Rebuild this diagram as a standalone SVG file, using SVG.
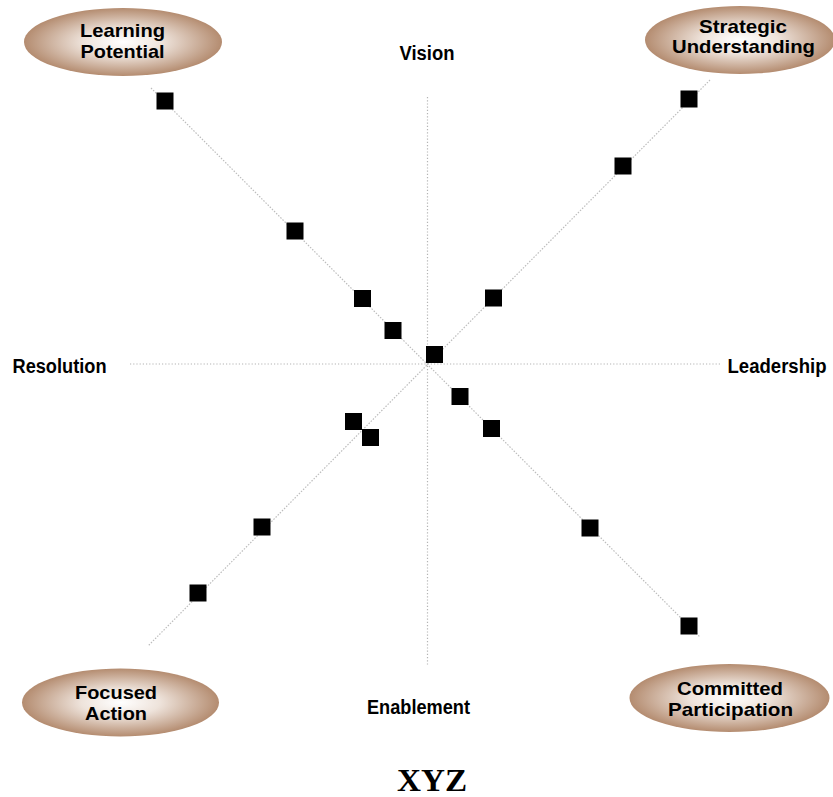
<svg xmlns="http://www.w3.org/2000/svg" width="833" height="797" viewBox="0 0 833 797">
<style>
.lbl{font-family:"Liberation Sans",Arial,sans-serif;font-weight:bold;font-size:20px;fill:#000;text-anchor:middle}
.nl{font-family:"Liberation Sans",Arial,sans-serif;font-weight:bold;font-size:19px;fill:#000;text-anchor:middle}
.ax{stroke:#b4b4b4;stroke-width:1.2;stroke-dasharray:1.2 2;fill:none}
.dg{stroke:#bdbdbd;stroke-width:1.2;stroke-dasharray:1.5 1.5;fill:none}
.pt{fill:#000}
.ell{fill:url(#tan)}
</style>
<defs>
<radialGradient id="tan" cx="0.5" cy="0.5" r="0.5">
<stop offset="0" stop-color="#ffffff"/>
<stop offset="0.4" stop-color="#eee3db"/>
<stop offset="1" stop-color="#b48c70"/>
</radialGradient>
</defs>
<rect width="833" height="797" fill="#fff"/>
<g id="connectors">
<line class="ax" x1="427.5" y1="97" x2="427.5" y2="665"/>
<line class="ax" x1="130" y1="364" x2="720" y2="364"/>
<line class="dg" x1="151" y1="88" x2="700" y2="637"/>
<line class="dg" x1="710" y1="80" x2="148" y2="646"/>
</g>
<g id="points">
<rect class="pt" x="156.5" y="92.5" width="17" height="17"/>
<rect class="pt" x="286.5" y="222.5" width="17" height="17"/>
<rect class="pt" x="354" y="290" width="17" height="17"/>
<rect class="pt" x="384.5" y="322" width="17" height="17"/>
<rect class="pt" x="426" y="346" width="17" height="17"/>
<rect class="pt" x="451.5" y="388" width="17" height="17"/>
<rect class="pt" x="483" y="420" width="17" height="17"/>
<rect class="pt" x="581.5" y="519.5" width="17" height="17"/>
<rect class="pt" x="680.5" y="617.5" width="17" height="17"/>
<rect class="pt" x="680.5" y="90.5" width="17" height="17"/>
<rect class="pt" x="614.5" y="157.5" width="17" height="17"/>
<rect class="pt" x="485" y="289.5" width="17" height="17"/>
<rect class="pt" x="345" y="413" width="17" height="17"/>
<rect class="pt" x="362" y="429" width="17" height="17"/>
<rect class="pt" x="253.5" y="518.5" width="17" height="17"/>
<rect class="pt" x="189.5" y="584.5" width="17" height="17"/>
</g>
<g id="axis-labels">
<text class="lbl" x="427" y="60" textLength="55" lengthAdjust="spacingAndGlyphs">Vision</text>
<text class="lbl" x="59.5" y="373" textLength="94" lengthAdjust="spacingAndGlyphs">Resolution</text>
<text class="lbl" x="777" y="373" textLength="99" lengthAdjust="spacingAndGlyphs">Leadership</text>
<text class="lbl" x="418.5" y="714" textLength="103" lengthAdjust="spacingAndGlyphs">Enablement</text>
</g>
<g id="node-learning">
<ellipse class="ell" cx="123" cy="42" rx="99" ry="34"/>
<text class="nl" x="122.5" y="37" textLength="85" lengthAdjust="spacingAndGlyphs">Learning</text>
<text class="nl" x="122.5" y="58" textLength="84" lengthAdjust="spacingAndGlyphs">Potential</text>
</g>
<g id="node-strategic">
<ellipse class="ell" cx="740" cy="40" rx="95" ry="34"/>
<text class="nl" x="743" y="33" textLength="88" lengthAdjust="spacingAndGlyphs">Strategic</text>
<text class="nl" x="743.5" y="53" textLength="143" lengthAdjust="spacingAndGlyphs">Understanding</text>
</g>
<g id="node-focused">
<ellipse class="ell" cx="120.5" cy="702.5" rx="98.5" ry="34"/>
<text class="nl" x="116" y="699" textLength="82" lengthAdjust="spacingAndGlyphs">Focused</text>
<text class="nl" x="116" y="720" textLength="62" lengthAdjust="spacingAndGlyphs">Action</text>
</g>
<g id="node-committed">
<ellipse class="ell" cx="729.5" cy="698" rx="100" ry="34"/>
<text class="nl" x="730" y="695" textLength="106" lengthAdjust="spacingAndGlyphs">Committed</text>
<text class="nl" x="730.5" y="716" textLength="125" lengthAdjust="spacingAndGlyphs">Participation</text>
</g>
<text x="432" y="791" font-family="Liberation Serif,'Times New Roman',serif" font-weight="bold" font-size="31" text-anchor="middle" textLength="70" lengthAdjust="spacingAndGlyphs">XYZ</text>
</svg>
